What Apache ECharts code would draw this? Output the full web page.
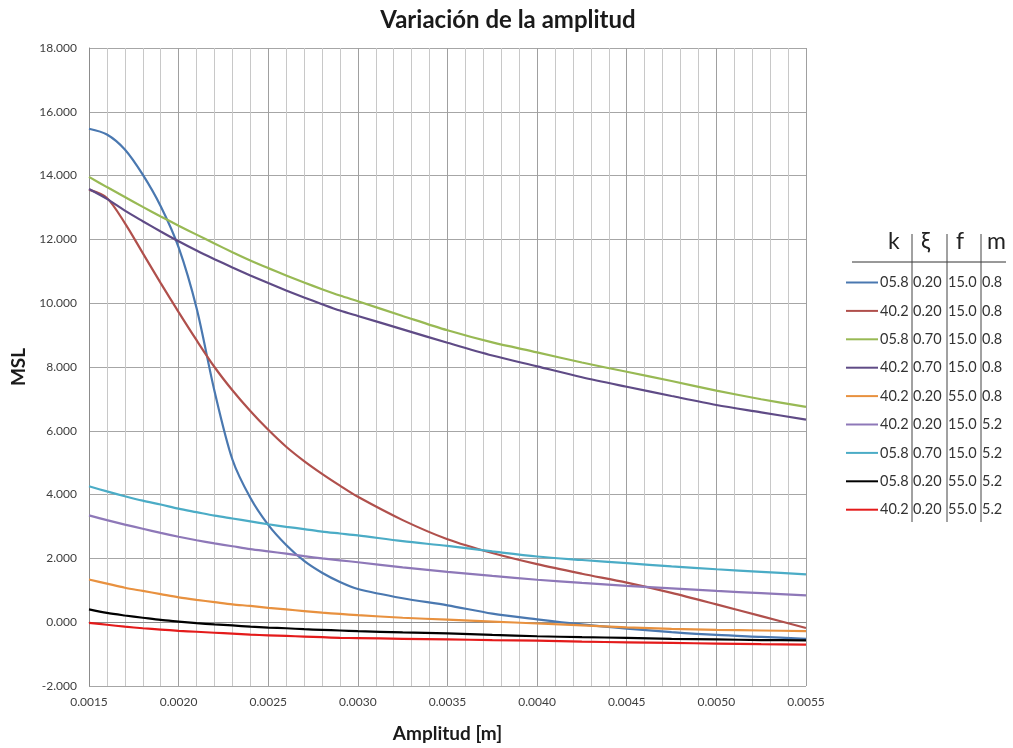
<!DOCTYPE html>
<html><head><meta charset="utf-8">
<script src="https://cdn.jsdelivr.net/npm/echarts@6/dist/echarts.min.js"></script>
<style>html,body{margin:0;padding:0;background:#fff}#c{width:1013px;height:748px}</style>
</head><body><div id="c"></div>
<script>
const amplitudes = [0.0015,0.0016,0.0017,0.0018,0.0019,0.0020,0.0021,0.0022,0.0023,0.0024,0.0025,0.0026,0.0027,0.0028,0.0029,0.0030,0.00325,0.0035,0.00375,0.0040,0.00425,0.0045,0.00475,0.0050,0.00525,0.0055];
const seriesNames = ["05.8 0.20 15.0 0.8","40.2 0.20 15.0 0.8","05.8 0.70 15.0 0.8","40.2 0.70 15.0 0.8","40.2 0.20 55.0 0.8","40.2 0.20 15.0 5.2","05.8 0.70 15.0 5.2","05.8 0.20 55.0 5.2","40.2 0.20 55.0 5.2"];
const msl_k058_x020_f15_m08 = [15.47,15.29,14.82,14.03,13.04,11.75,9.85,7.25,5.1,3.9,3.05,2.42,1.92,1.55,1.26,1.04,0.75,0.53,0.27,0.09,-0.07,-0.2,-0.31,-0.4,-0.46,-0.52];
const msl_k402_x020_f15_m08 = [13.56,13.3,12.51,11.57,10.63,9.72,8.84,8.0,7.27,6.62,6.03,5.5,5.05,4.65,4.28,3.93,3.2,2.6,2.17,1.82,1.52,1.24,0.92,0.56,0.19,-0.18];
const msl_k058_x070_f15_m08 = [13.96,13.64,13.33,13.02,12.72,12.43,12.15,11.87,11.6,11.34,11.1,10.87,10.65,10.44,10.24,10.06,9.6,9.15,8.77,8.46,8.14,7.85,7.56,7.26,6.99,6.75];
const msl_k402_x070_f15_m08 = [13.58,13.27,12.9,12.57,12.25,11.94,11.65,11.38,11.12,10.87,10.63,10.4,10.18,9.97,9.77,9.6,9.18,8.76,8.36,8.02,7.68,7.38,7.09,6.81,6.58,6.35];
const msl_k402_x020_f55_m08 = [1.34,1.21,1.08,0.98,0.88,0.78,0.7,0.63,0.56,0.51,0.45,0.4,0.35,0.3,0.26,0.22,0.14,0.08,0.02,-0.04,-0.1,-0.16,-0.21,-0.24,-0.26,-0.28];
const msl_k402_x020_f15_m52 = [3.35,3.2,3.06,2.93,2.8,2.68,2.57,2.47,2.38,2.29,2.22,2.15,2.07,2.0,1.94,1.88,1.72,1.58,1.45,1.33,1.23,1.14,1.06,0.98,0.91,0.84];
const msl_k058_x070_f15_m52 = [4.26,4.1,3.95,3.81,3.69,3.56,3.45,3.34,3.25,3.16,3.07,2.99,2.92,2.84,2.78,2.72,2.54,2.39,2.22,2.06,1.95,1.85,1.75,1.66,1.58,1.5];
const msl_k058_x020_f55_m52 = [0.4,0.29,0.21,0.14,0.07,0.02,-0.03,-0.07,-0.1,-0.14,-0.17,-0.19,-0.22,-0.24,-0.26,-0.28,-0.32,-0.35,-0.4,-0.44,-0.47,-0.49,-0.52,-0.54,-0.56,-0.57];
const msl_k402_x020_f55_m52 = [-0.02,-0.08,-0.14,-0.19,-0.23,-0.27,-0.3,-0.33,-0.36,-0.39,-0.41,-0.43,-0.45,-0.47,-0.49,-0.5,-0.52,-0.54,-0.56,-0.58,-0.61,-0.63,-0.65,-0.67,-0.69,-0.7];
const legendHeader = ["k","ξ","f","m"];
const title = "Variación de la amplitud";
const xName = "Amplitud [m]";
const yName = "MSL";

const allValues = [msl_k058_x020_f15_m08,msl_k402_x020_f15_m08,msl_k058_x070_f15_m08,msl_k402_x070_f15_m08,msl_k402_x020_f55_m08,msl_k402_x020_f15_m52,msl_k058_x070_f15_m52,msl_k058_x020_f55_m52,msl_k402_x020_f55_m52];
const colors = ["#4a78b0","#b0504c","#98b954","#5f4b86","#e8913f","#8e78b8","#4bacc6","#000000","#e41b1b"];
const FONT = "Lato, 'Open Sans', sans-serif";

const chart = echarts.init(document.getElementById('c'));
const series = seriesNames.map((n,i)=>({
  name:n, type:'line', smooth:0.3, symbol:'none', showSymbol:false,
  lineStyle:{width:2.2,color:colors[i]}, itemStyle:{color:colors[i]},
  data: amplitudes.map((a,j)=>[a, allValues[i][j]])
}));

const hdrX = [896,929,964,995];
const graphic = [];
legendHeader.forEach((h,i)=>graphic.push({type:'text',left:hdrX[i]-8,top:230,style:{text:h,font:'23px '+FONT,fill:'#222',width:16,align:'center'}}));
graphic.push({type:'line',shape:{x1:852,y1:262,x2:1006,y2:262},style:{stroke:'#333',lineWidth:1}});
[912,947,981].forEach(x=>graphic.push({type:'line',shape:{x1:x,y1:234,x2:x,y2:522},style:{stroke:'#444',lineWidth:1}}));

const rs = {fontSize:14.5,fontFamily:FONT,color:'#333'};
chart.setOption({
  animation:false,
  color:colors,
  title:{text:title,left:503,top:3,textAlign:'center',textStyle:{fontFamily:FONT,fontSize:24,fontWeight:'bold',color:'#1a1a1a'}},
  grid:{left:89,right:207,top:48,bottom:62},
  legend:{orient:'vertical',left:846,top:275,padding:0,itemWidth:32,itemHeight:14,itemGap:13.4,icon:'path://M0,6L32,6L32,8L0,8Z',
    formatter:n=>{const p=n.split(' ');return '{a|'+p[0]+'}{b|'+p[1]+'}{c|'+p[2]+'}{d|'+p[3]+'}';},
    textStyle:{fontFamily:FONT,fontSize:14.5,color:'#333',padding:[0,0,0,-3],rich:{a:Object.assign({width:33},rs),b:Object.assign({width:35},rs),c:Object.assign({width:34},rs),d:Object.assign({width:24},rs)}}
  },
  xAxis:{type:'value',min:0.0015,max:0.0055,interval:0.0005,
    name:xName,nameLocation:'middle',nameGap:38,nameTextStyle:{fontFamily:FONT,fontSize:19,fontWeight:'bold',color:'#1a1a1a'},
    axisLine:{show:true,lineStyle:{color:'#8c8c8c'}},axisTick:{show:false},
    axisLabel:{formatter:v=>v.toFixed(4),fontFamily:FONT,fontSize:12,color:'#404040',margin:10},
    splitLine:{show:true,lineStyle:{color:'#a0a0a0',width:1}},
    minorTick:{show:false,splitNumber:5},
    minorSplitLine:{show:true,lineStyle:{color:'#c8c8c8',width:1}}},
  yAxis:{type:'value',min:-2,max:18,interval:2,
    name:yName,nameLocation:'middle',nameGap:61,nameTextStyle:{fontFamily:FONT,fontSize:19,fontWeight:'bold',color:'#1a1a1a'},
    axisLine:{show:true,lineStyle:{color:'#8c8c8c'}},axisTick:{show:false},
    axisLabel:{formatter:v=>v.toFixed(3),fontFamily:FONT,fontSize:12,color:'#404040',margin:12},
    splitLine:{show:true,lineStyle:{color:'#a6a6a6',width:1}}},
  graphic:graphic,
  series:series
});
</script></body></html>
